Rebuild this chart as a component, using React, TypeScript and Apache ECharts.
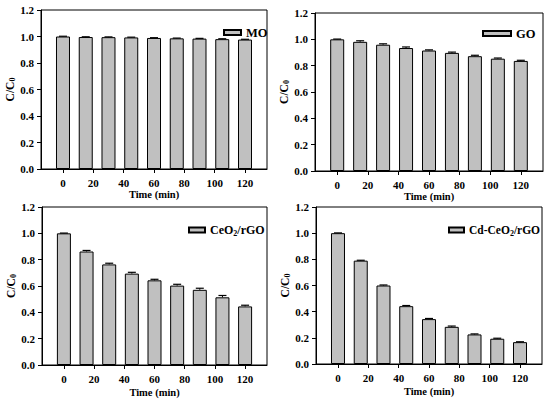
import React, { useEffect, useRef } from "react";
import * as echarts from "echarts";

const times = [0, 15, 30, 45, 60, 75, 90, 105, 120];
const xTicks = [0, 20, 40, 60, 80, 100, 120];
const yTicks = [0, 0.2, 0.4, 0.6, 0.8, 1.0, 1.2];

const moValues = [1.0, 0.996, 0.995, 0.993, 0.989, 0.986, 0.984, 0.98, 0.977];
const moErrors = [0.002, 0.002, 0.002, 0.002, 0.002, 0.002, 0.002, 0.003, 0.002];
const goValues = [1.0, 0.981, 0.959, 0.934, 0.915, 0.897, 0.872, 0.853, 0.836];
const goErrors = [0.002, 0.008, 0.007, 0.008, 0.005, 0.006, 0.007, 0.005, 0.005];
const ceoValues = [1.0, 0.862, 0.764, 0.694, 0.643, 0.603, 0.571, 0.514, 0.445];
const ceoErrors = [0.002, 0.008, 0.009, 0.01, 0.008, 0.01, 0.012, 0.014, 0.009];
const cdValues = [1.0, 0.79, 0.6, 0.442, 0.343, 0.284, 0.226, 0.193, 0.167];
const cdErrors = [0.002, 0.003, 0.004, 0.005, 0.005, 0.006, 0.004, 0.004, 0.003];

const seriesNames = ["MO", "GO", "CeO2/rGO", "Cd-CeO2/rGO"];

const FONT = "Liberation Serif";

export default function App() {
  const ref = useRef<HTMLDivElement>(null);
  useEffect(() => {
    document.body.style.margin = "0";
    const chart = echarts.init(ref.current!, null, { renderer: "svg" });
    const grids = [
      { left: 41, top: 10, width: 226, height: 159 },
      { left: 315, top: 13, width: 228, height: 158 },
      { left: 42, top: 207, width: 225, height: 158 },
      { left: 316, top: 207, width: 226, height: 157 },
    ];
    const xNameGaps = [16, 15, 22, 22];
    const valueSets = [moValues, goValues, ceoValues, cdValues];
    const errorSets = [moErrors, goErrors, ceoErrors, cdErrors];
    const legendPos = [
      { left: 218, top: 21, w: 17, fs: 12.5 },
      { left: 477, top: 22, w: 28, fs: 12.5 },
      { left: 183, top: 219, w: 16, fs: 12 },
      { left: 443, top: 219, w: 15, fs: 11.5 },
    ];
    const makeRich = (fs: number) => ({
      a: { fontFamily: FONT, fontWeight: "bold", fontSize: fs, color: "#000" },
      s: { fontFamily: FONT, fontWeight: "bold", fontSize: 8, color: "#000", verticalAlign: "bottom", padding: [6, 0, 0, 0] },
    });
    const fmtName = (n: string) => {
      if (n.includes("CeO2")) {
        const [pre, post] = n.split("CeO2");
        return `{a|${pre}CeO}{s|2}{a|${post}}`;
      }
      return `{a|${n}}`;
    };
    const axisLabel = { fontFamily: FONT, fontWeight: "bold", fontSize: 11, color: "#000" };
    const option: any = {
      animation: false,
      grid: grids.map((g) => ({ ...g, show: true, borderColor: "#000", borderWidth: 1, backgroundColor: "transparent" })),
      xAxis: grids.map((_, i) => ({
        type: "value",
        gridIndex: i,
        min: -14.5,
        max: 134.5,
        splitLine: { show: false },
        axisLine: { onZero: false, lineStyle: { color: "#000", width: 1 } },
        axisTick: { show: true, customValues: xTicks, length: 4, lineStyle: { color: "#000" } },
        axisLabel: { ...axisLabel, customValues: xTicks, margin: 8 },
        name: "Time (min)",
        nameLocation: "middle",
        nameGap: xNameGaps[i],
        nameTextStyle: { fontFamily: FONT, fontWeight: "bold", fontSize: 10.5, color: "#000" },
      })),
      yAxis: grids.map((_, i) => ({
        type: "value",
        gridIndex: i,
        min: 0,
        max: 1.2,
        interval: 0.2,
        splitLine: { show: false },
        axisLine: { show: true, onZero: false, lineStyle: { color: "#000", width: 1 } },
        axisTick: { show: true, length: 4, lineStyle: { color: "#000" } },
        axisLabel: { ...axisLabel, margin: 7, formatter: (v: number) => v.toFixed(1) },
        name: "{a|C/C}{s|0}",
        nameLocation: "middle",
        nameGap: 24,
        nameTextStyle: {
          rich: {
            a: { fontFamily: FONT, fontWeight: "bold", fontSize: 11.5, color: "#000" },
            s: { fontFamily: FONT, fontWeight: "bold", fontSize: 8, color: "#000", verticalAlign: "bottom", padding: [5, 0, 0, 0] },
          },
        },
      })),
      legend: legendPos.map((p, i) => ({
        data: [seriesNames[i]],
        left: p.left,
        top: p.top,
        itemWidth: p.w,
        itemHeight: 5,
        icon: "rect",
        selectedMode: false,
        formatter: fmtName,
        textStyle: { rich: makeRich(p.fs), fontFamily: FONT, fontWeight: "bold", fontSize: p.fs, color: "#000" },
      })),
      series: [
        ...valueSets.map((vals, i) => ({
          type: "bar",
          name: seriesNames[i],
          xAxisIndex: i,
          yAxisIndex: i,
          barWidth: 14,
          data: vals.map((v, k) => [times[k], v]),
          itemStyle: { color: "#c0c0c0", borderColor: "#000", borderWidth: 1 },
        })),
        ...valueSets.map((vals, i) => ({
          type: "custom",
          xAxisIndex: i,
          yAxisIndex: i,
          z: 5,
          data: vals.map((v, k) => [times[k], v, errorSets[i][k]]),
          renderItem: (params: any, api: any) => {
            const x = api.value(0);
            const y = api.value(1);
            const e = api.value(2);
            const top = api.coord([x, y + e]);
            const base = api.coord([x, y]);
            const hw = 4;
            return {
              type: "group",
              children: [
                { type: "line", shape: { x1: base[0], y1: base[1], x2: top[0], y2: top[1] }, style: { stroke: "#000", lineWidth: 1 } },
                { type: "line", shape: { x1: top[0] - hw, y1: top[1], x2: top[0] + hw, y2: top[1] }, style: { stroke: "#000", lineWidth: 1.2 } },
              ],
            };
          },
        })),
      ],
    };
    chart.setOption(option);
    return () => chart.dispose();
  }, []);
  return <div ref={ref} style={{ width: 550, height: 405 }} />;
}
